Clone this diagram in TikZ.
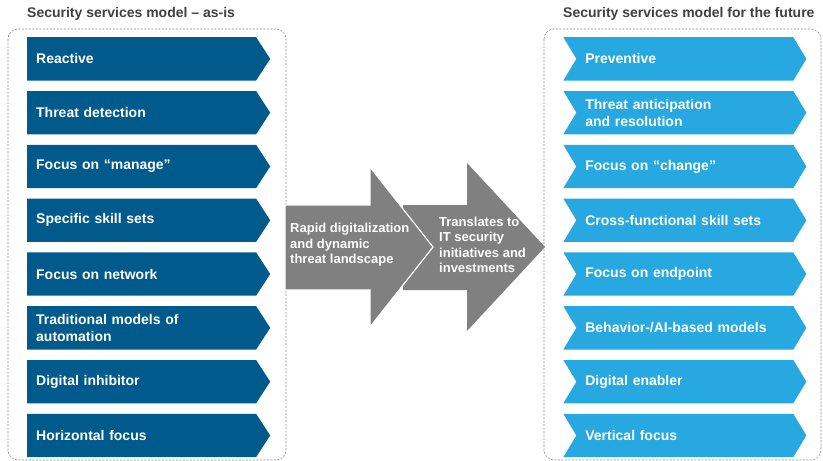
\documentclass[tikz,border=0pt]{standalone}
\usepackage{fontspec}
\setmainfont{Liberation Sans}
\usepackage{tikz}
\usetikzlibrary{shapes}
\usetikzlibrary{positioning}

\definecolor{asisblue}{RGB}{0,90,140}
\definecolor{futureblue}{RGB}{39,168,224}
\definecolor{arrowgray}{RGB}{128,128,128}
\definecolor{titlegray}{RGB}{64,64,64}
\definecolor{framegray}{RGB}{140,140,140}

\begin{document}
\begin{tikzpicture}[x=1pt,y=-1pt]
		\tikzstyle{heading}=[text=titlegray, inner sep=2pt, font=\fontsize{14}{17}\selectfont\bfseries]
		\tikzstyle{frame}=[draw=framegray, line width=0.6pt, dash pattern=on 2pt off 1.5pt, rounded corners=10pt]
		\tikzstyle{asis}=[signal, signal to=east, signal pointer angle=114, fill=asisblue, text=white, minimum width=243pt, minimum height=43.3pt, inner sep=0pt, text width=211pt, align=left, font=\fontsize{14}{17}\selectfont\bfseries]
		\tikzstyle{future}=[signal, signal from=west, signal to=east, signal pointer angle=118, fill=futureblue, text=white, minimum width=243pt, minimum height=43.3pt, inner sep=0pt, text width=199pt, align=left, font=\fontsize{14}{17}\selectfont\bfseries]
		\tikzstyle{arrowtext}=[text=white, inner sep=2pt, align=left, font=\fontsize{13}{15.5}\selectfont\bfseries]
		\useasboundingbox (0,0) rectangle (823,461);
		% dashed frames round the two columns
		\draw[frame] (8,29) rectangle (286,460);
		\draw[frame] (544,29) rectangle (821,460);
		\node[heading, anchor=west] (asistitle) at (25,14) {Security services model – as-is};
		\node[heading, anchor=west] (futuretitle) at (561,14) {Security services model for the future};
		% left column
		\node[asis, anchor=north west] (reactive) at (27,37) {Reactive};
		\node[asis, below=10.1pt of reactive] (detection) {Threat detection};
		\node[asis, below=10.1pt of detection] (manage) {Focus on “manage”};
		\node[asis, below=10.1pt of manage] (specific) {Specific skill sets};
		\node[asis, below=10.1pt of specific] (network) {Focus on network};
		\node[asis, below=10.1pt of network] (traditional) {Traditional models of\\automation};
		\node[asis, below=10.1pt of traditional] (inhibitor) {Digital inhibitor};
		\node[asis, below=10.1pt of inhibitor] (horizontal) {Horizontal focus};
		% right column
		\node[future, anchor=north west] (preventive) at (563,37) {Preventive};
		\node[future, below=10.1pt of preventive] (anticipation) {Threat anticipation\\and resolution};
		\node[future, below=10.1pt of anticipation] (change) {Focus on “change”};
		\node[future, below=10.1pt of change] (crossfunc) {Cross-functional skill sets};
		\node[future, below=10.1pt of crossfunc] (endpoint) {Focus on endpoint};
		\node[future, below=10.1pt of endpoint] (behavior) {Behavior-/AI-based models};
		\node[future, below=10.1pt of behavior] (enabler) {Digital enabler};
		\node[future, below=10.1pt of enabler] (vertical) {Vertical focus};
		% big arrows in the middle
		\fill[arrowgray] (403,205) -- (467,205) -- (467,163) -- (545,247) -- (467,331) -- (467,290) -- (403,290) -- cycle;
		\filldraw[fill=arrowgray, draw=white, line width=1.2pt] (285,205) -- (370,205) -- (370,167) -- (433,247) -- (370,327) -- (370,290) -- (285,290) -- cycle;
		\node[arrowtext, anchor=west] (drivers) at (288,245) {Rapid digitalization\\and dynamic\\threat landscape};
		\node[arrowtext, anchor=west] (translates) at (437,245) {Translates to\\IT security\\initiatives and\\investments};
	\end{tikzpicture}
\end{document}
